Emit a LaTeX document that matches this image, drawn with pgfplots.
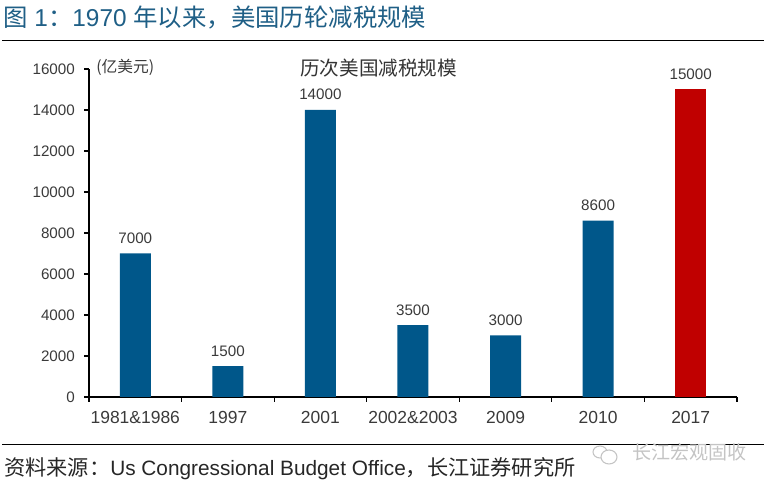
\documentclass[border=0pt]{standalone}
\usepackage{fontspec}
\setmainfont{Liberation Sans}
\newfontfamily\cjk{Noto Sans CJK SC}
\usepackage{pgfplots}
\pgfplotsset{compat=1.18}
\definecolor{barblue}{HTML}{00578A}
\definecolor{barred}{HTML}{C00000}
\definecolor{titleblue}{HTML}{1F5F86}
\definecolor{txt}{HTML}{3A3A3A}
\definecolor{wm}{HTML}{C4C4C4}
\pgfplotstableread{
x y
0 7000
1 1500
2 14000
3 3500
4 3000
5 8600
}\blue
\pgfplotstableread{
x y
6 15000
}\red
\begin{document}
\begin{tikzpicture}[x=0.75pt,y=0.75pt]
\useasboundingbox (0,0) rectangle (768,485);
\begin{axis}[
  at={(66.75pt,66pt)},anchor=south west,
  scale only axis,width=486pt,height=246pt,
  xmin=-0.5,xmax=6.5,ymin=0,ymax=16000,
  axis x line=bottom,axis y line=left,
  axis line style={-,black,line width=0.8pt},
  tick align=outside,
  tick style={black,line width=0.8pt},
  major tick length=3.6pt,
  xtick={0,1,2,3,4,5,6},
  xticklabels={1981\&1986,1997,2001,2002\&2003,2009,2010,2017},
  major x tick style={draw=none},
  minor xtick={-0.5,0.5,1.5,2.5,3.5,4.5,5.5,6.5},
  minor tick length=3.6pt,
  minor x tick style={black,line width=0.8pt},
  ytick={0,2000,...,16000},
  scaled y ticks=false,
  /pgf/number format/assume math mode=true,
  /pgf/number format/set thousands separator={},
  /pgf/number format/fixed,
  yticklabel style={font=\fontsize{11.4pt}{13pt}\selectfont,text=txt,xshift=-3.5pt},
  xticklabel style={font=\fontsize{13.1pt}{15pt}\selectfont,text=txt,yshift=-3.5pt},
  ybar,bar width=23.25pt,bar shift=0pt,
  nodes near coords,
  nodes near coords style={font=\fontsize{11.4pt}{13pt}\selectfont,text=txt,yshift=4pt},
  clip=false,
]
\addplot[fill=barblue,draw=none] table[x=x,y=y]{\blue};
\addplot[fill=barred,draw=none] table[x=x,y=y]{\red};
\end{axis}
% unit + inner title
\node[anchor=west,inner sep=0,text=txt,font=\fontsize{11.8pt}{14pt}\selectfont\cjk] at (96,418) {(亿美元)};
\node[anchor=west,inner sep=0,text=txt!90!black,font=\fontsize{14.7pt}{17pt}\selectfont\cjk] at (300,417) {历次美国减税规模};
% title and rules
\node[anchor=west,inner sep=0,text=titleblue,font=\fontsize{18.3pt}{21pt}\selectfont] at (3,467) {{\cjk 图} 1{\cjk ：}1970 {\cjk 年以来，美国历轮减税规模}};
\draw[black,line width=0.8pt] (2,444.5)--(764,444.5);
\draw[black,line width=0.8pt] (2,40.5)--(764,40.5);
% source
\node[anchor=west,inner sep=0,text=black!85,font=\fontsize{15.6pt}{18pt}\selectfont] at (4,16) {{\cjk\fontsize{15.9pt}{18pt}\selectfont 资料来源：}Us Congressional Budget Office{\cjk\fontsize{15.9pt}{18pt}\selectfont ，长江证券研究所}};
% watermark
\draw[wm,line width=0.8pt,fill=white] (600,33) ellipse (7 and 6);
\draw[wm,line width=0.8pt,fill=white] (609,28) ellipse (8 and 7);
\node[anchor=west,inner sep=0,text=wm,font=\fontsize{14.3pt}{17pt}\selectfont\cjk] at (632,33) {长江宏观固收};
\end{tikzpicture}
\end{document}
